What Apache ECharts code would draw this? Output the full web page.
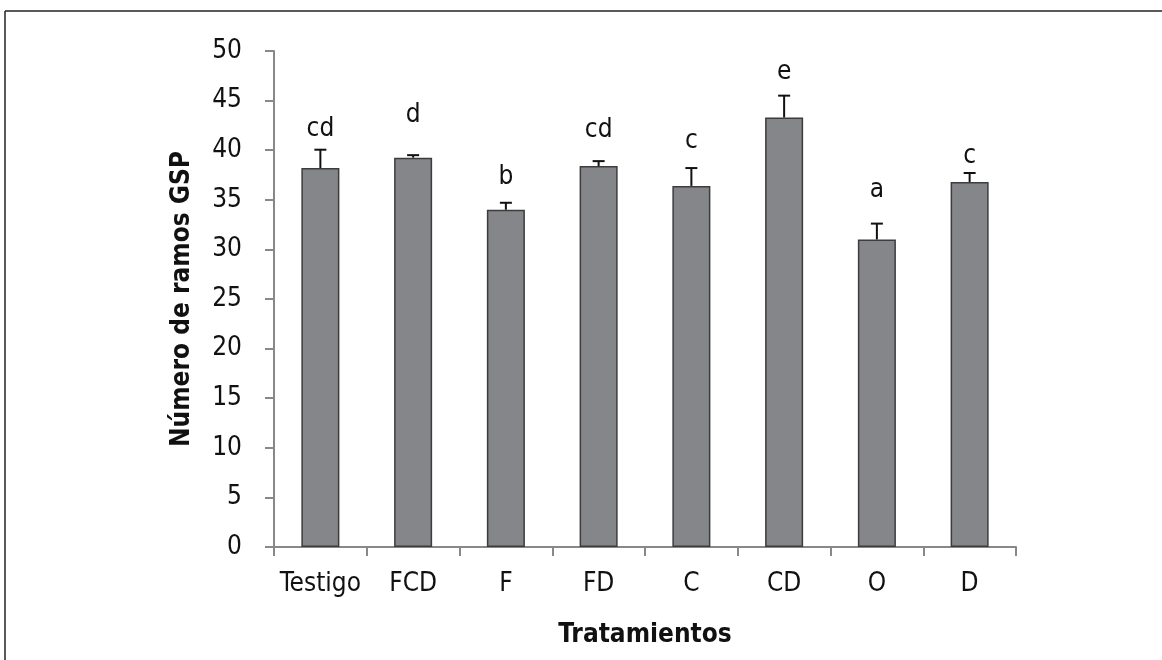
<!DOCTYPE html>
<html>
<head>
<meta charset="utf-8">
<script src="https://cdn.jsdelivr.net/npm/echarts@6/dist/echarts.min.js"></script>
<style>html,body{margin:0;padding:0;background:#fff}#c{width:1162px;height:660px}</style>
</head>
<body>
<div id="c"></div>
<script>
var categories = ['Testigo', 'FCD', 'F', 'FD', 'C', 'CD', 'O', 'D'];
var means = [38.2, 39.25, 34.0, 38.4, 36.4, 43.3, 31.0, 36.8];
var errors = [1.85, 0.25, 0.7, 0.5, 1.8, 2.2, 1.6, 0.9];
var letters = ['cd', 'd', 'b', 'cd', 'c', 'e', 'a', 'c'];
var letterY = [42.1, 43.5, 37.3, 42.0, 40.9, 47.9, 36.0, 39.4];
var yTicks = [0, 50, 5];

var FONT = '"Liberation Sans Narrow", "DejaVu Sans Condensed", sans-serif';
var chart = echarts.init(document.getElementById('c'), null, {renderer: 'canvas'});

var errData = means.map(function (m, i) { return [i, m, m + errors[i]]; });
var letterData = letters.map(function (t, i) { return [i, letterY[i], t]; });

chart.setOption({
  animation: false,
  backgroundColor: '#fff',
  grid: {left: 274, right: 146, top: 51, bottom: 113, containLabel: false},
  graphic: [
    {type: 'line', shape: {x1: 5, y1: 11, x2: 5, y2: 660}, style: {stroke: '#222', lineWidth: 1.5}},
    {type: 'line', shape: {x1: 5, y1: 11, x2: 1162, y2: 11}, style: {stroke: '#222', lineWidth: 1.5}}
  ],
  xAxis: {
    type: 'category',
    data: categories,
    boundaryGap: true,
    name: 'Tratamientos',
    nameLocation: 'middle',
    nameGap: 75,
    nameTextStyle: {fontFamily: FONT, fontSize: 26, fontWeight: 'bold', color: '#111'},
    axisLine: {lineStyle: {color: '#888', width: 2}},
    axisTick: {show: true, alignWithLabel: false, length: 9, lineStyle: {color: '#888', width: 2}},
    axisLabel: {fontFamily: FONT, fontSize: 26, color: '#111', margin: 24, interval: 0}
  },
  yAxis: {
    type: 'value',
    min: yTicks[0], max: yTicks[1], interval: yTicks[2],
    name: 'Número de ramos GSP',
    nameLocation: 'middle',
    nameGap: 79,
    nameTextStyle: {fontFamily: FONT, fontSize: 26, fontWeight: 'bold', color: '#111'},
    axisLine: {show: true, lineStyle: {color: '#888', width: 2}},
    axisTick: {show: true, length: 9, lineStyle: {color: '#888', width: 2}},
    splitLine: {show: false},
    axisLabel: {fontFamily: FONT, fontSize: 26, color: '#111', margin: 32}
  },
  series: [
    {
      type: 'bar',
      data: means,
      barWidth: '41%',
      itemStyle: {color: '#858689', borderColor: '#3c3c3c', borderWidth: 1.5},
      z: 2
    },
    {
      type: 'custom',
      data: errData,
      z: 3,
      renderItem: function (params, api) {
        var x = api.value(0);
        var lo = api.coord([x, api.value(1)]);
        var hi = api.coord([x, api.value(2)]);
        var hw = 6;
        return {
          type: 'group',
          children: [
            {type: 'line', shape: {x1: lo[0], y1: lo[1], x2: hi[0], y2: hi[1]}, style: {stroke: '#111', lineWidth: 2}},
            {type: 'line', shape: {x1: hi[0] - hw, y1: hi[1], x2: hi[0] + hw, y2: hi[1]}, style: {stroke: '#111', lineWidth: 2}}
          ]
        };
      }
    },
    {
      type: 'custom',
      data: letterData,
      z: 4,
      renderItem: function (params, api) {
        var p = api.coord([api.value(0), api.value(1)]);
        return {
          type: 'text',
          x: p[0], y: p[1],
          style: {text: letters[params.dataIndex], fontFamily: FONT, fontSize: 26, fill: '#111', align: 'center', verticalAlign: 'middle'}
        };
      }
    }
  ]
});
</script>
</body>
</html>
